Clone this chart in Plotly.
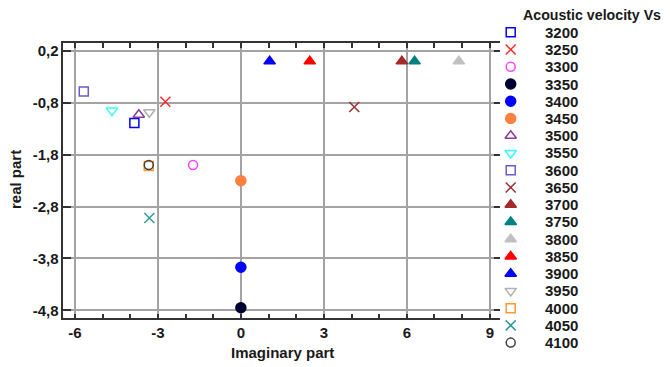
import plotly.graph_objects as go

# ---- data ----
velocities = [3200, 3250, 3300, 3350, 3400, 3450, 3500, 3550, 3600, 3650,
              3700, 3750, 3800, 3850, 3900, 3950, 4000, 4050, 4100]
imag_part = [-3.85, -2.73, -1.73, 0.0, 0.0, 0.0, -3.69, -4.66, -5.68, 4.10,
             5.82, 6.28, 7.88, 2.49, 1.04, -3.31, -3.33, -3.31, -3.33]
real_part = [-1.19, -0.78, -2.00, -4.75, -3.97, -2.30, -1.03, -0.95, -0.58, -0.88,
             0.0, 0.0, 0.0, 0.0, 0.0, -0.98, -2.02, -3.02, -2.00]

symbols = ["square-open", "x-thin-open", "circle-open", "circle", "circle", "circle",
           "triangle-up-open", "triangle-down-open", "square-open", "x-thin-open",
           "triangle-up", "triangle-up", "triangle-up", "triangle-up", "triangle-up",
           "triangle-down-open", "square-open", "x-thin-open", "circle-open"]
colors = ["#0000ff", "#ff2a2a", "#ff44ff", "#000033", "#0000ff", "#ff8040",
          "#8a3d9a", "#33ffff", "#6a5acd", "#993333",
          "#a52a2a", "#008080", "#c0c0c0", "#ff0000", "#0000ff",
          "#b0b0b0", "#ff9933", "#339999", "#404040"]

x_ticks = [-6, -3, 0, 3, 6, 9]
x_tick_text = ["-6", "-3", "0", "3", "6", "9"]
y_ticks = [0.2, -0.8, -1.8, -2.8, -3.8, -4.8]
y_tick_text = ["0,2", "-0,8", "-1,8", "-2,8", "-3,8", "-4,8"]

legend_title = "Acoustic velocity Vs"
x_title = "Imaginary part"
y_title = "real part"

# ---- style ----
OFF = 8  # page body margin of the browser
WIN_W, WIN_H = 670, 367
W, H = WIN_W - OFF, WIN_H - OFF
FONT = "Liberation Sans"
FS = 15
TXT = "#1a1a1a"
FRAME = "#333333"
GRID = "#a3a3a3"


def px_x(p):
    return (p - OFF) / W


def px_y(p):
    return 1 - (p - OFF) / H


def msize(sym):
    if sym.startswith("triangle"):
        return 10
    if sym.startswith("x"):
        return 10
    if sym == "circle":
        return 10
    return 9


fig = go.Figure()

for i, v in enumerate(velocities):
    fig.add_trace(go.Scatter(
        x=[imag_part[i]], y=[real_part[i]], mode="markers", name=str(v),
        showlegend=False,
        marker=dict(symbol=symbols[i], size=msize(symbols[i]), color=colors[i],
                    line=dict(color=colors[i], width=1.5)),
        xaxis="x", yaxis="y", cliponaxis=False,
    ))

# manual legend (markers on a hidden axis, rows by index)
leg_marker_x = 0.063
for i, v in enumerate(velocities):
    fig.add_trace(go.Scatter(
        x=[leg_marker_x], y=[i], mode="markers", showlegend=False,
        marker=dict(symbol=symbols[i], size=msize(symbols[i]), color=colors[i],
                    line=dict(color=colors[i], width=1.5)),
        xaxis="x2", yaxis="y2", cliponaxis=False, hoverinfo="skip",
    ))

bold = dict(family=FONT, size=FS, color=TXT, weight="bold")
annotations = []
for i, v in enumerate(velocities):
    annotations.append(dict(
        x=px_x(543), y=i, xref="paper", yref="y2", text=str(v), showarrow=False,
        xanchor="left", yanchor="middle", font=bold))
annotations.append(dict(
    x=px_x(522), y=-1, xref="paper", yref="y2", text=legend_title, showarrow=False,
    xanchor="left", yanchor="middle", borderpad=0,
    font=dict(family=FONT, size=14.2, color=TXT, weight="bold")))
annotations.append(dict(
    x=px_x((63.3 + 501.7) / 2), y=px_y(352.5), xref="paper", yref="paper",
    text=x_title, showarrow=False, xanchor="center", yanchor="middle", font=bold))
annotations.append(dict(
    x=px_x(15), y=px_y(180), xref="paper", yref="paper", text=y_title,
    showarrow=False, textangle=-90, xanchor="center", yanchor="middle", font=bold))

axis_common = dict(
    showline=True, linecolor=FRAME, linewidth=1.5, mirror="allticks",
    showgrid=True, gridcolor=GRID, gridwidth=1.5, zeroline=False,
    ticks="inside", tickcolor=FRAME, tickwidth=1.5,
    tickfont=bold, fixedrange=True,
)

leg_px0 = 32.3 - OFF
leg_step = 17.24
fig.update_layout(
    width=W, height=H, autosize=False,
    margin=dict(l=0, r=0, t=0, b=0, pad=0),
    paper_bgcolor="white", plot_bgcolor="white",
    xaxis=dict(
        domain=[px_x(63.3), px_x(501.7)], range=[-6.42, 9.43],
        tickvals=x_ticks, ticktext=x_tick_text, ticklen=5,
        minor=dict(dtick=1, tick0=0, ticks="inside", ticklen=5,
                   tickcolor=FRAME, tickwidth=1.5, showgrid=False),
        **axis_common),
    yaxis=dict(
        domain=[px_y(318.3), px_y(43.3)], range=[-4.954, 0.348],
        tickvals=y_ticks, ticktext=y_tick_text, ticklen=8,
        **axis_common),
    xaxis2=dict(domain=[px_x(500), 1.0], range=[0, 1], visible=False,
                anchor="y2", fixedrange=True),
    yaxis2=dict(domain=[0, 1],
                range=[(H - leg_px0) / leg_step, -leg_px0 / leg_step],
                visible=False, anchor="x2", fixedrange=True),
    annotations=annotations,
    showlegend=False,
)

fig.write_html("out.html")
